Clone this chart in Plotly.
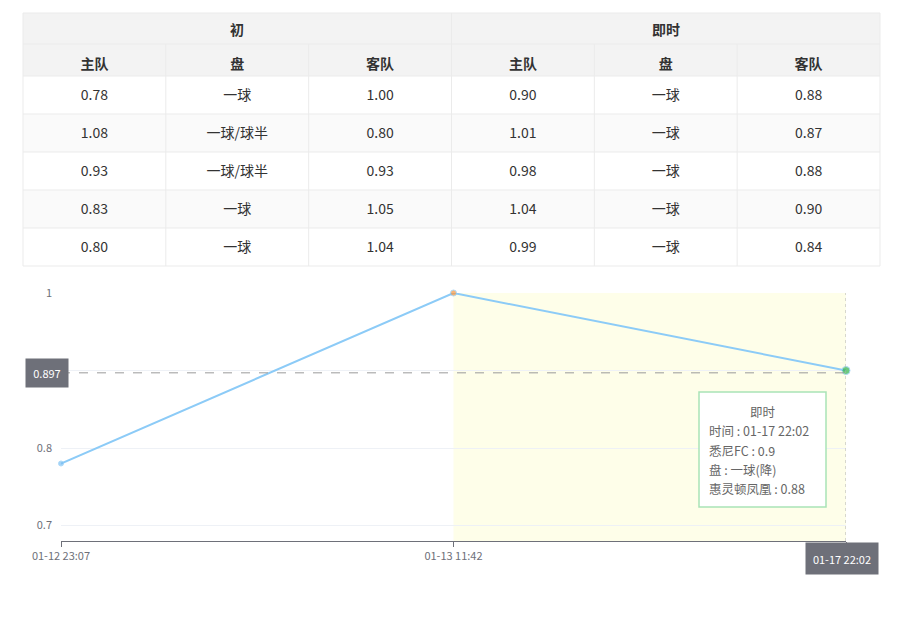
import plotly.graph_objects as go

# page body adds an 8px margin; size the figure so it fits the 913x625 window
OFF = 8
W, H = 913 - OFF, 625 - OFF


def px(x):
    return (x - OFF) / W


def py(y):
    return 1 - (y - OFF) / H


FONT = "Noto Sans CJK SC, Noto Sans, sans-serif"

# ---------------- data ----------------
group_titles = ["初", "即时"]
col_headers = ["主队", "盘", "客队", "主队", "盘", "客队"]
init_home = [0.78, 1.08, 0.93, 0.83, 0.80]
init_line = ["一球", "一球/球半", "一球/球半", "一球", "一球"]
init_away = [1.00, 0.80, 0.93, 1.05, 1.04]
live_home = [0.90, 1.01, 0.98, 1.04, 0.99]
live_line = ["一球", "一球", "一球", "一球", "一球"]
live_away = [0.88, 0.87, 0.88, 0.90, 0.84]

times = ["01-12 23:07", "01-13 11:42", "01-17 22:02"]
home_odds = [0.78, 1.00, 0.90]
point_colors = ["#7cbff2", "#f7953e", "#2fb34a"]
point_sizes = [5, 6, 8]
y_ticks = [0.7, 0.8, 0.9, 1.0]
y_tick_text = ["0.7", "0.8", "", "1"]   # 0.9 label is hidden under the pointer label
pointer_value = 0.897
live_start_index = 1

tooltip_title = "即时"
tooltip_time = "01-17 22:02"
tooltip_home_name = "悉尼FC"
tooltip_home = 0.9
tooltip_line = "一球(降)"
tooltip_away_name = "惠灵顿凤凰"
tooltip_away = 0.88

# ---------------- figure ----------------
fmt = lambda arr: [f"{v:.2f}" for v in arr]
line_col = "#ebebeb"
head_fill = "#f3f3f3"
alt_fill = "#fafafa"
CLEAR = "rgba(0,0,0,0)"

# table geometry (page pixels)
TX0, TX1 = 23, 880
ncol = len(col_headers)
colw = (TX1 - TX0) / ncol
TOP = 13           # top of group-title row
H1 = 31            # group-title row height
H2 = 32            # column-header row height
RH = 38            # data row height
nrow = len(init_home)
head2_top = TOP + H1
body_top = head2_top + H2
body_bot = body_top + RH * nrow

fig = go.Figure()

# table text (grid and fills drawn as layout shapes below)
fig.add_trace(go.Table(
    domain=dict(x=[px(TX0), px(TX1)], y=[py(285), py(45)]),
    columnwidth=[1] * ncol,
    header=dict(
        values=[f"<b>{h}</b>" for h in col_headers],
        height=H2 - 1,
        fill_color=CLEAR,
        line=dict(color=CLEAR, width=0),
        font=dict(family=FONT, size=14, color="#333333"),
        align="center",
    ),
    cells=dict(
        values=[fmt(init_home), init_line, fmt(init_away),
                fmt(live_home), live_line, fmt(live_away)],
        height=RH,
        fill_color=CLEAR,
        line=dict(color=CLEAR, width=0),
        font=dict(family=FONT, size=14, color="#333333"),
        align="center",
    ),
))

fig.add_trace(go.Scatter(
    x=times, y=home_odds,
    mode="lines+markers",
    line=dict(color="#8ccbf7", width=2),
    marker=dict(color=point_colors, size=point_sizes),
    cliponaxis=False,
    hoverinfo="skip",
    showlegend=False,
))


def prect(x0, x1, y0, y1, fill, line=None, layer="below"):
    return dict(type="rect", xref="paper", yref="paper", x0=px(x0), x1=px(x1),
                y0=py(y1), y1=py(y0), fillcolor=fill,
                line=line if line else dict(width=0), layer=layer)


def pline(x0, x1, y0, y1, color=line_col):
    return dict(type="line", xref="paper", yref="paper", x0=px(x0), x1=px(x1),
                y0=py(y0), y1=py(y1), line=dict(color=color, width=1), layer="below")


shapes = [prect(TX0, TX1, TOP, body_top, head_fill)]
for r in range(nrow):
    if r % 2 == 1:
        shapes.append(prect(TX0, TX1, body_top + r * RH, body_top + (r + 1) * RH, alt_fill))
# horizontal grid lines
for yy in [TOP, head2_top, body_top] + [body_top + RH * (r + 1) for r in range(nrow)]:
    shapes.append(pline(TX0, TX1, yy, yy))
# vertical grid lines
for c in range(ncol + 1):
    xx = TX0 + c * colw
    y_start = TOP if c in (0, ncol // 2, ncol) else head2_top
    shapes.append(pline(xx, xx, y_start, body_bot))

shapes += [
    dict(type="rect", xref="x", yref="y", x0=live_start_index, x1=len(times) - 1,
         y0=0.68, y1=1.0, fillcolor="#fefee9", line=dict(width=0), layer="below"),
    dict(type="line", xref="x", yref="y", x0=0, x1=len(times) - 1,
         y0=pointer_value, y1=pointer_value,
         line=dict(color="#9a9a9a", width=1, dash="dash"), layer="above"),
    dict(type="line", xref="x", yref="y", x0=len(times) - 1, x1=len(times) - 1,
         y0=0.68, y1=1.0,
         line=dict(color="#b0b0b0", width=1, dash="dot"), layer="above"),
    prect(699, 826, 392, 507, "#ffffff", dict(color="#a9e3b6", width=1.5), layer="above"),
]

annotations = []
for i, t in enumerate(group_titles):
    cx = TX0 + colw * (ncol // 2) * (i + 0.5)
    annotations.append(dict(xref="paper", yref="paper", x=px(cx), y=py(TOP + H1 / 2 + 0.5),
                            xanchor="center", yanchor="middle", showarrow=False,
                            text=f"<b>{t}</b>",
                            font=dict(family=FONT, size=14, color="#333333")))

annotations += [
    dict(xref="paper", yref="y", x=px(47), y=pointer_value, text=f"{pointer_value}",
         xanchor="center", yanchor="middle",
         showarrow=False, bgcolor="#6e7079", font=dict(family=FONT, size=11, color="#ffffff"),
         width=32, height=18, borderpad=5),
    dict(xref="paper", yref="paper", x=px(842), y=py(558.5), text=times[-1],
         xanchor="center", yanchor="middle",
         showarrow=False, bgcolor="#6e7079", font=dict(family=FONT, size=11, color="#ffffff"),
         width=62, height=21, borderpad=5),
    dict(xref="paper", yref="paper", x=px(762.5), y=py(411), text=tooltip_title,
         xanchor="center", yanchor="middle",
         showarrow=False, font=dict(family=FONT, size=12.5, color="#666666")),
]
body_lines = [
    f"时间 : {tooltip_time}",
    f"{tooltip_home_name} : {tooltip_home}",
    f"盘 : {tooltip_line}",
    f"{tooltip_away_name} : {tooltip_away}",
]
for i, line in enumerate(body_lines):
    annotations.append(dict(xref="paper", yref="paper", x=px(707), xanchor="left",
                            yanchor="middle",
                            y=py(430.5 + 19.5 * i), text=line, showarrow=False,
                            font=dict(family=FONT, size=12.5, color="#666666")))

fig.update_layout(
    width=W, height=H,
    margin=dict(l=0, r=0, t=0, b=0, pad=0, autoexpand=False),
    paper_bgcolor="#ffffff",
    plot_bgcolor="rgba(0,0,0,0)",
    font=dict(family=FONT),
    showlegend=False,
    shapes=shapes,
    annotations=annotations,
    xaxis=dict(
        domain=[px(61), px(846)], type="category", range=[0, len(times) - 1],
        tickmode="array", tickvals=times, ticktext=times[:-1] + [""],
        automargin=False,
        showgrid=False, zeroline=False,
        showline=True, linecolor="#6e7079", linewidth=1,
        ticks="outside", ticklen=5, tickcolor="#6e7079",
        tickfont=dict(family=FONT, size=11, color="#6e7079"),
    ),
    yaxis=dict(
        domain=[py(541), py(293)], range=[0.68, 1.0],
        automargin=False,
        tickvals=y_ticks, ticktext=y_tick_text,
        showgrid=True, gridcolor="#eef1f6", zeroline=False, showline=False,
        ticks="", ticklabelstandoff=8,
        tickfont=dict(family=FONT, size=11, color="#6e7079"),
    ),
)

fig.write_html("out.html")
